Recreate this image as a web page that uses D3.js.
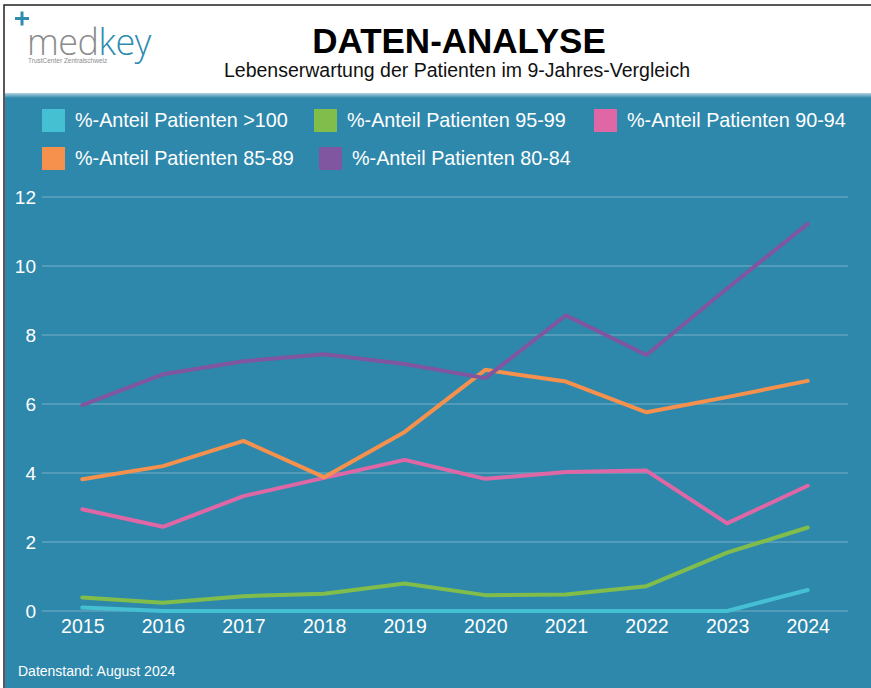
<!DOCTYPE html>
<html>
<head>
<meta charset="utf-8">
<script src="https://cdn.jsdelivr.net/npm/d3@7"></script>
<style>
  html, body { margin: 0; padding: 0; background: #fff; }
  svg { display: block; font-family: "Liberation Sans", Arial, Helvetica, sans-serif; }
</style>
</head>
<body>
<svg id="chart" width="871" height="688"></svg>
<script>
// data
var years = ['2015', '2016', '2017', '2018', '2019', '2020', '2021', '2022', '2023', '2024'];
var seriesNames = ['%-Anteil Patienten >100', '%-Anteil Patienten 95-99', '%-Anteil Patienten 90-94',
    '%-Anteil Patienten 85-89', '%-Anteil Patienten 80-84'];
var seriesColors = ['#45bfd2', '#80bd4a', '#e067a6', '#f5914c', '#7f569f'];
var values100 = [0.1, 0, 0, 0, 0, 0, 0, 0, 0, 0.61];
var values95 = [0.39, 0.24, 0.43, 0.5, 0.8, 0.46, 0.48, 0.72, 1.69, 2.42];
var values90 = [2.95, 2.44, 3.33, 3.86, 4.38, 3.83, 4.03, 4.07, 2.54, 3.63];
var values85 = [3.82, 4.2, 4.93, 3.88, 5.19, 6.99, 6.65, 5.76, 6.2, 6.67];
var values80 = [5.97, 6.86, 7.24, 7.44, 7.16, 6.75, 8.57, 7.42, 9.35, 11.22];
var yTicks = [0, 2, 4, 6, 8, 10, 12];

var allValues = [values100, values95, values90, values85, values80];
var series = seriesNames.map(function (name, i) {
    return {
        name: name,
        color: seriesColors[i],
        points: years.map(function (y, j) { return { x: y, y: allValues[i][j] }; })
    };
});

var svg = d3.select('#chart');
var teal = '#2e88ab';

// card frame
svg.append('rect').attr('x', 4).attr('y', 5).attr('width', 880).attr('height', 700)
    .attr('fill', '#fff').attr('stroke', '#222').attr('stroke-width', 1.5);

// header: logo
var logo = svg.append('g');
logo.append('path')
    .attr('d', 'M15,18.5H29M22,11.5V25.5')
    .attr('stroke', '#2f8bb0').attr('stroke-width', 3).attr('fill', 'none');
var logoText = logo.append('text')
    .attr('x', 27).attr('y', 55)
    .style('font-family', '"Open Sans", "Noto Sans", sans-serif')
    .style('font-weight', 300)
    .style('font-size', '36px')
    .style('letter-spacing', '-0.5px');
logoText.append('tspan').attr('fill', '#8b8b8b').text('med');
logoText.append('tspan').attr('fill', '#2f8bb0').text('key');
logo.append('text')
    .attr('x', 28).attr('y', 63)
    .attr('fill', '#8b8b8b')
    .style('font-size', '6.5px')
    .text('TrustCenter Zentralschweiz');

// header: titles
svg.append('text')
    .attr('x', 459).attr('y', 53)
    .attr('text-anchor', 'middle')
    .style('font-weight', 'bold')
    .style('font-size', '35px')
    .attr('fill', '#000')
    .text('DATEN-ANALYSE');
svg.append('text')
    .attr('x', 457).attr('y', 77)
    .attr('text-anchor', 'middle')
    .style('font-size', '19.5px')
    .attr('fill', '#111')
    .text('Lebenserwartung der Patienten im 9-Jahres-Vergleich');

// teal panel
var defs = svg.append('defs');
var grad = defs.append('linearGradient').attr('id', 'topFade')
    .attr('x1', 0).attr('y1', 0).attr('x2', 0).attr('y2', 1);
grad.append('stop').attr('offset', '0%').attr('stop-color', '#b5d3e0');
grad.append('stop').attr('offset', '100%').attr('stop-color', teal);
svg.append('rect').attr('x', 5).attr('y', 94).attr('width', 866).attr('height', 594)
    .attr('fill', teal);
svg.append('rect').attr('x', 5).attr('y', 93).attr('width', 866).attr('height', 5)
    .attr('fill', 'url(#topFade)');

// legend
var legendPos = [[42, 120], [314, 120], [594, 120], [42, 158], [319, 158]];
var legend = svg.append('g').selectAll('g.legend-item')
    .data(series)
    .enter().append('g')
    .classed('legend-item', true)
    .attr('transform', function (d, i) {
    return 'translate(' + legendPos[i][0] + ',' + legendPos[i][1] + ')';
});
legend.append('rect')
    .attr('x', 0).attr('y', -11)
    .attr('width', 23).attr('height', 23)
    .attr('fill', function (d) { return d.color; });
legend.append('text')
    .attr('x', 33).attr('y', 7)
    .attr('fill', '#fff')
    .style('font-size', '19.8px')
    .text(function (d) { return d.name; });

// scales
var xScale = d3.scalePoint()
    .domain(years)
    .range([42, 848])
    .padding(0.5);
var yScale = d3.scaleLinear()
    .domain([0, 12])
    .range([611, 197]);

// gridlines
svg.append('g').selectAll('line.grid')
    .data(yTicks)
    .enter().append('line')
    .classed('grid', true)
    .attr('x1', 42).attr('x2', 848)
    .attr('y1', function (d) { return yScale(d); })
    .attr('y2', function (d) { return yScale(d); })
    .attr('stroke', 'rgba(255,255,255,0.35)')
    .attr('stroke-width', 1.2);

// y axis labels
var yAxis = svg.append('g')
    .attr('transform', 'translate(36,0)')
    .call(d3.axisLeft(yScale).tickValues(yTicks).tickSize(0).tickPadding(0));
yAxis.select('.domain').remove();
yAxis.selectAll('text')
    .attr('fill', '#fff')
    .style('font-size', '19px')
    .style('font-family', '"Liberation Sans", Arial, sans-serif');

// x axis labels
var xAxis = svg.append('g')
    .attr('transform', 'translate(0,619)')
    .call(d3.axisBottom(xScale).tickSize(0).tickPadding(0));
xAxis.select('.domain').remove();
xAxis.selectAll('text')
    .attr('fill', '#fff')
    .attr('dy', '0.71em')
    .style('font-size', '19.5px')
    .style('font-family', '"Liberation Sans", Arial, sans-serif');

// lines
var line = d3.line()
    .x(function (d) { return xScale(d.x); })
    .y(function (d) { return yScale(d.y); });
svg.append('g').selectAll('path.series')
    .data(series)
    .enter().append('path')
    .classed('series', true)
    .attr('d', function (d) { return line(d.points); })
    .attr('fill', 'none')
    .attr('stroke', function (d) { return d.color; })
    .attr('stroke-width', 4)
    .attr('stroke-linejoin', 'round')
    .attr('stroke-linecap', 'round');

// footnote
svg.append('text')
    .attr('x', 18).attr('y', 676)
    .attr('fill', '#fff')
    .style('font-size', '14px')
    .text('Datenstand: August 2024');
</script>
</body>
</html>
